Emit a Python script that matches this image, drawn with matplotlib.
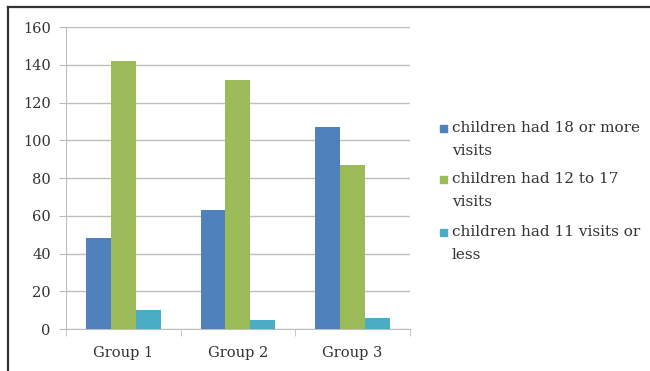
import numpy as np
import matplotlib
matplotlib.use('Agg')
import matplotlib.pyplot as plt
from matplotlib.lines import Line2D
from matplotlib.patches import Rectangle

groups = ['Group 1', 'Group 2', 'Group 3']
visits_18_more = [48, 63, 107]
visits_12_17 = [142, 132, 87]
visits_11_less = [10, 5, 6]
series_labels = ['children had 18 or more\nvisits',
                 'children had 12 to 17\nvisits',
                 'children had 11 visits or\nless']
yticks = [0, 20, 40, 60, 80, 100, 120, 140, 160]

colors = ['#4F81BD', '#9BBB59', '#4BACC6']

plt.rcParams['font.family'] = ['DejaVu Serif']

W, H = 650, 371
fig = plt.figure(figsize=(6.5, 3.71), dpi=100)
ax = fig.add_axes([0.1015, 0.113, 0.529, 0.814])

x = np.arange(len(groups))
w = 0.217
for i, vals in enumerate([visits_18_more, visits_12_17, visits_11_less]):
    ax.bar(x + (i - 1) * w, vals, width=w, color=colors[i],
           label=series_labels[i], zorder=3)

ax.set_xlim(-0.5, 2.5)
ax.set_ylim(0, 160)
ax.set_yticks(yticks)
ax.set_xticks(x)
ax.set_xticklabels(groups)
ax.set_xticks([-0.5, 0.5, 1.5, 2.5], minor=True)
ax.tick_params(axis='x', which='major', length=0, pad=12, labelsize=10.5, colors='#333333')
ax.tick_params(axis='x', which='minor', length=5, color='#BBBBBB')
ax.tick_params(axis='y', length=5, color='#BBBBBB', labelsize=10.5, labelcolor='#333333', pad=6)

ax.grid(axis='y', color='#BEBEBE', linewidth=1, zorder=0)
for s in ['top', 'right']:
    ax.spines[s].set_visible(False)
ax.spines['left'].set_color('#BEBEBE')
ax.spines['bottom'].set_color('#BEBEBE')

# legend drawn by hand so the square sits on the first line of each entry
first_line_px = [128, 179, 232]
for lab, col, yp in zip(series_labels, colors, first_line_px):
    fig.add_artist(Rectangle((440 / W, 1 - (yp + 3.5) / H), 7 / W, 7 / H,
                             transform=fig.transFigure, color=col))
    fig.text(452 / W, 1 - (yp - 7) / H, lab, va='top', ha='left',
             fontsize=11, color='#333333', linespacing=1.8)

# frame lines of the original screenshot (left and top only)
fig.add_artist(Line2D([0.0123, 0.0123], [0, 0.981], transform=fig.transFigure,
                      color='#333333', linewidth=1.6))
fig.add_artist(Line2D([0.0123, 1.0], [0.981, 0.981], transform=fig.transFigure,
                      color='#333333', linewidth=1.6))

fig.savefig('out.png', dpi=100)
